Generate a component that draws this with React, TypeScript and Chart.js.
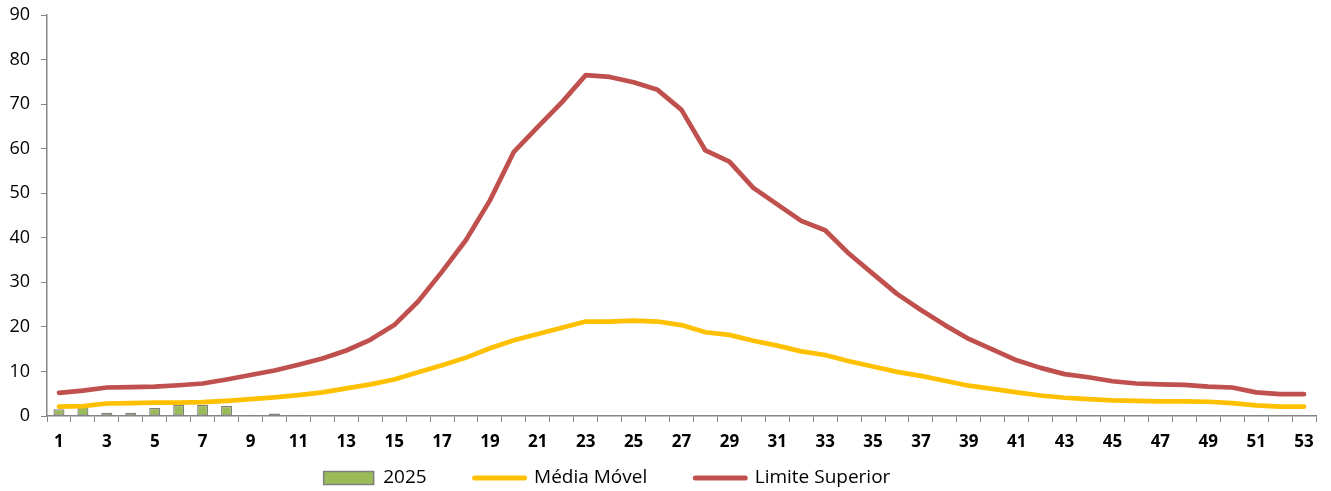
import React, { useEffect, useRef } from "react";
import { Chart, registerables } from "chart.js";

Chart.register(...registerables);

const weeks: string[] = Array.from({ length: 53 }, (_, i) => String(i + 1));

const cases2025: (number | null)[] = [
  1.5, 2.1, 0.75, 0.75, 1.8, 2.5, 2.5, 2.25, 0.2, 0.55, 0.2,
];

const mediaMovel: number[] = [
  2.1, 2.2, 2.8, 2.9, 3.0, 3.0, 3.1, 3.4, 3.8, 4.2,
  4.7, 5.3, 6.2, 7.1, 8.2, 9.8, 11.4, 13.1, 15.2, 17.0,
  18.4, 19.8, 21.2, 21.2, 21.4, 21.2, 20.4, 18.8, 18.2, 16.9,
  15.8, 14.5, 13.7, 12.3, 11.1, 9.9, 9.0, 7.9, 6.8, 6.1,
  5.3, 4.6, 4.1, 3.8, 3.5, 3.4, 3.3, 3.3, 3.2, 2.9,
  2.4, 2.1, 2.1,
];

const limiteSuperior: number[] = [
  5.2, 5.7, 6.4, 6.5, 6.6, 6.9, 7.3, 8.2, 9.2, 10.2,
  11.5, 12.9, 14.7, 17.1, 20.4, 25.7, 32.4, 39.5, 48.4, 59.3,
  64.9, 70.4, 76.5, 76.1, 74.9, 73.2, 68.7, 59.6, 57.1, 51.2,
  47.5, 43.8, 41.7, 36.4, 31.9, 27.4, 23.8, 20.4, 17.3, 14.9,
  12.5, 10.8, 9.4, 8.7, 7.8, 7.3, 7.1, 7.0, 6.6, 6.4,
  5.3, 4.9, 4.9,
];

const seriesNames = ["2025", "Média Móvel", "Limite Superior"];

const GREEN = "#9BBB59";
const GREEN_BORDER = "#7F7F7F";
const YELLOW = "#FFC000";
const RED = "#C0504D";
const AXIS = "#868686";
const FONT = "'Open Sans', Lato, sans-serif";

export default function App() {
  const ref = useRef<HTMLCanvasElement | null>(null);

  useEffect(() => {
    document.body.style.margin = "0";
    const canvas = ref.current;
    if (!canvas) return;

    const legendShift = {
      id: "legendShift",
      afterLayout(chart: any) {
        const lg = chart.legend;
        if (!lg) return;
        const dx = -51;
        const dy = -35.5;
        lg.left += dx;
        lg.right += dx;
        lg.top += dy;
      },
    };

    const chart = new Chart(canvas, {
      type: "bar",
      data: {
        labels: weeks,
        datasets: [
          {
            type: "bar",
            label: seriesNames[0],
            data: cases2025,
            backgroundColor: GREEN,
            borderColor: GREEN_BORDER,
            borderWidth: 1.3,
            borderSkipped: false,
            barPercentage: 0.46,
            categoryPercentage: 1,
            order: 3,
          },
          {
            type: "line",
            label: seriesNames[1],
            data: mediaMovel,
            borderColor: YELLOW,
            backgroundColor: YELLOW,
            borderWidth: 4.7,
            pointRadius: 0,
            tension: 0,
            borderCapStyle: "round",
            borderJoinStyle: "round",
            order: 2,
          },
          {
            type: "line",
            label: seriesNames[2],
            data: limiteSuperior,
            borderColor: RED,
            backgroundColor: RED,
            borderWidth: 4.7,
            pointRadius: 0,
            tension: 0,
            borderCapStyle: "round",
            borderJoinStyle: "round",
            order: 1,
          },
        ],
      } as any,
      options: {
        responsive: false,
        animation: false,
        devicePixelRatio: 1,
        layout: { padding: { top: 15, right: 15, left: 0, bottom: 0 } },
        plugins: {
          tooltip: { enabled: false },
          title: { display: false },
          legend: {
            display: true,
            position: "bottom",
            maxHeight: 35,
            labels: {
              usePointStyle: true,
              pointStyleWidth: 50,
              boxHeight: 13,
              padding: 48,
              color: "#000",
              font: { family: FONT, size: 19 },
              generateLabels: () => [
                {
                  text: seriesNames[0],
                  fillStyle: GREEN,
                  strokeStyle: GREEN_BORDER,
                  lineWidth: 1.5,
                  pointStyle: "rect",
                  hidden: false,
                  datasetIndex: 0,
                  fontColor: "#000",
                },
                {
                  text: seriesNames[1],
                  fillStyle: YELLOW,
                  strokeStyle: YELLOW,
                  lineWidth: 5,
                  lineCap: "round",
                  pointStyle: "line",
                  hidden: false,
                  datasetIndex: 1,
                  fontColor: "#000",
                },
                {
                  text: seriesNames[2],
                  fillStyle: RED,
                  strokeStyle: RED,
                  lineWidth: 5,
                  lineCap: "round",
                  pointStyle: "line",
                  hidden: false,
                  datasetIndex: 2,
                  fontColor: "#000",
                },
              ] as any,
            },
          },
        },
        scales: {
          x: {
            type: "category",
            offset: true,
            grid: {
              display: true,
              offset: true,
              drawOnChartArea: false,
              drawTicks: true,
              tickLength: 6,
              color: AXIS,
              lineWidth: 1,
            },
            border: { display: true, color: AXIS, width: 1.5 },
            ticks: {
              autoSkip: false,
              maxRotation: 0,
              minRotation: 0,
              padding: 10,
              color: "#000",
              font: { family: FONT, size: 17, weight: "bold" },
              callback: (_v: any, i: number) => (i % 2 === 0 ? weeks[i] : ""),
            },
            afterFit: (scale: any) => {
              scale.height = 40;
            },
          },
          y: {
            min: 0,
            max: 90,
            grid: {
              display: true,
              drawOnChartArea: false,
              drawTicks: true,
              tickLength: 6,
              color: AXIS,
              lineWidth: 1,
            },
            border: { display: true, color: AXIS, width: 1.5 },
            ticks: {
              stepSize: 10,
              padding: 11,
              color: "#000",
              font: { family: FONT, size: 18 },
            },
            afterFit: (scale: any) => {
              scale.width = 47;
              scale.paddingTop = 0;
              scale.paddingBottom = 0;
            },
          },
        },
      } as any,
      plugins: [legendShift],
    });

    return () => chart.destroy();
  }, []);

  return (
    <div style={{ width: 1331, height: 491 }}>
      <canvas ref={ref} width={1331} height={491} style={{ display: "block" }} />
    </div>
  );
}
